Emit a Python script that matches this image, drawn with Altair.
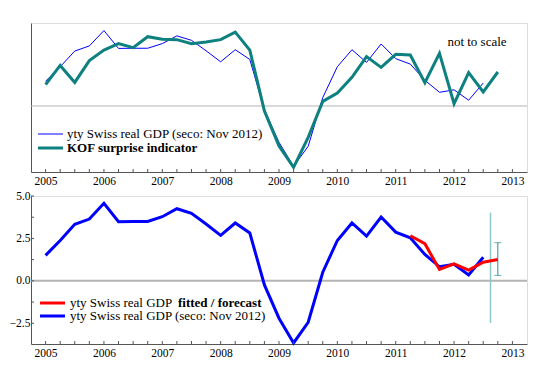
import altair as alt
import pandas as pd

# ---- data ----
years = [2005, 2006, 2007, 2008, 2009, 2010, 2011, 2012, 2013]
quarters = [2005 + 0.25 * i for i in range(33)]  # 2005.00 ... 2013.00 (tick positions)

gdp_quarters = [2005 + 0.25 * i for i in range(31)]  # 2005Q1 .. 2012Q3
gdp = [1.50, 2.38, 3.33, 3.64,
       4.57, 3.49, 3.50, 3.50,
       3.78, 4.25, 3.98, 3.35,
       2.68, 3.41, 2.82, -0.24,
       -2.20, -3.66, -2.44, 0.51,
       2.38, 3.41, 2.64, 3.76,
       2.87, 2.54, 1.56, 0.83,
       0.98, 0.35, 1.39]

kof_quarters = [2005 + 0.25 * i for i in range(32)]  # 2005Q1 .. 2012Q4
kof = [1.29, 2.46, 1.43, 2.75,
       3.39, 3.78, 3.54, 4.20,
       4.04, 4.02, 3.78, 3.88,
       4.02, 4.48, 3.39, -0.30,
       -2.42, -3.72, -1.90, 0.28,
       0.79, 1.74, 2.99, 2.34,
       3.13, 3.09, 1.41, 3.19,
       0.14, 2.02, 0.85, 2.06]

fc_quarters = [2011.25, 2011.5, 2011.75, 2012.0, 2012.25, 2012.5, 2012.75]
forecast = [2.66, 2.19, 0.67, 1.00, 0.63, 1.10, 1.26]

band_x = [2012.625]
band_lo = [-2.48]
band_hi = [4.02]

err_x = [2012.75]
err_lo = [0.32]
err_hi = [2.25]

ytick_vals = [-2.5, -1.25, 0.0, 1.25, 2.5, 3.75, 5.0]
ylabel_vals = [-2.5, 0.0, 2.5, 5.0]

# ---- style ----
FONT = "Liberation Serif"
TEAL = "#0e8080"
BLUE = "#0000ff"
RED = "#ff0000"
GRAY = "#b4b4b4"
AXIS = "#555555"

W = 496
H_TOP = 149
H_BOT = 148

xscale = alt.Scale(domain=[2004.75, 2013.25], nice=False, zero=False)
xaxis = alt.Axis(values=years, format="d", ticks=False, tickSize=0, grid=False, title=None,
                 labelFont=FONT, labelFontSize=11.5, labelColor="black",
                 labelPadding=3, domainColor=AXIS, labelFlush=False)

df_gdp = pd.DataFrame({"q": gdp_quarters, "v": gdp})
df_kof = pd.DataFrame({"q": kof_quarters, "v": kof})
df_fc = pd.DataFrame({"q": fc_quarters, "v": forecast})
df_q = pd.DataFrame({"q": quarters})
df_zero = pd.DataFrame({"v": [0.0]})
df_one = pd.DataFrame({"a": [0]})
df_band = pd.DataFrame({"q": band_x, "lo": band_lo, "hi": band_hi})
df_err = pd.DataFrame({"q": err_x, "lo": err_lo, "hi": err_hi})
df_yt = pd.DataFrame({"v": ytick_vals})

# ---- top panel ----
yscale_top = alt.Scale(domain=[-4.0, 5.03], nice=False, zero=False)
yaxis_top = alt.Axis(labels=False, ticks=False, tickSize=0, grid=False, title=None,
                     domainColor=AXIS)

top_zero = alt.Chart(df_zero).mark_rule(color=GRAY, strokeWidth=1).encode(
    y=alt.Y("v:Q", scale=yscale_top, axis=yaxis_top))
top_gdp = alt.Chart(df_gdp).mark_line(color=BLUE, strokeWidth=1).encode(
    x=alt.X("q:Q", scale=xscale, axis=xaxis),
    y=alt.Y("v:Q", scale=yscale_top, axis=yaxis_top))
top_kof = alt.Chart(df_kof).mark_line(color=TEAL, strokeWidth=3).encode(
    x=alt.X("q:Q", scale=xscale, axis=xaxis),
    y=alt.Y("v:Q", scale=yscale_top, axis=yaxis_top))
top_ticks = alt.Chart(df_q).mark_rule(color=AXIS, strokeWidth=1).encode(
    x=alt.X("q:Q", scale=xscale, axis=xaxis),
    y=alt.value(H_TOP), y2=alt.value(H_TOP - 3))
top_leg1_line = alt.Chart(df_one).mark_rule(color=BLUE, strokeWidth=1).encode(
    x=alt.value(7), x2=alt.value(32), y=alt.value(111))
top_leg2_line = alt.Chart(df_one).mark_rule(color=TEAL, strokeWidth=3).encode(
    x=alt.value(7), x2=alt.value(32), y=alt.value(125))
top_leg1_text = alt.Chart(df_one).mark_text(
    text="yty Swiss real GDP (seco: Nov 2012)", font=FONT, fontSize=13,
    align="left", baseline="middle", color="black").encode(
    x=alt.value(36), y=alt.value(111))
top_leg2_text = alt.Chart(df_one).mark_text(
    text="KOF surprise indicator", font=FONT, fontSize=13, fontWeight="bold",
    align="left", baseline="middle", color="black").encode(
    x=alt.value(36), y=alt.value(125))
top_note = alt.Chart(df_one).mark_text(
    text="not to scale", font=FONT, fontSize=13, align="center",
    baseline="middle", color="black").encode(x=alt.value(446), y=alt.value(19))

top = alt.layer(top_zero, top_gdp, top_kof, top_ticks, top_leg1_line, top_leg2_line,
                top_leg1_text, top_leg2_text, top_note).properties(width=W, height=H_TOP)

# ---- bottom panel ----
yscale_bot = alt.Scale(domain=[-3.72, 5.0], nice=False, zero=False)
yaxis_bot = alt.Axis(values=ylabel_vals, format=".1f", ticks=False, tickSize=0, grid=False,
                     title=None, labelFont=FONT, labelFontSize=11.5, labelColor="black",
                     labelPadding=1, domainColor=AXIS, labelFlush=False)

bot_zero = alt.Chart(df_zero).mark_rule(color=GRAY, strokeWidth=2).encode(
    y=alt.Y("v:Q", scale=yscale_bot, axis=yaxis_bot))
bot_band = alt.Chart(df_band).mark_rule(color="#8cc8c8", strokeWidth=1.5).encode(
    x=alt.X("q:Q", scale=xscale, axis=xaxis),
    y=alt.Y("lo:Q", scale=yscale_bot, axis=yaxis_bot), y2="hi:Q")
bot_err = alt.Chart(df_err).mark_rule(color="#2a9090", strokeWidth=1).encode(
    x=alt.X("q:Q", scale=xscale, axis=xaxis),
    y=alt.Y("lo:Q", scale=yscale_bot, axis=yaxis_bot), y2="hi:Q")
bot_cap_lo = alt.Chart(df_err).mark_tick(color="#2a9090", orient="horizontal",
                                         size=7, thickness=1).encode(
    x=alt.X("q:Q", scale=xscale, axis=xaxis),
    y=alt.Y("lo:Q", scale=yscale_bot, axis=yaxis_bot))
bot_cap_hi = alt.Chart(df_err).mark_tick(color="#2a9090", orient="horizontal",
                                         size=7, thickness=1).encode(
    x=alt.X("q:Q", scale=xscale, axis=xaxis),
    y=alt.Y("hi:Q", scale=yscale_bot, axis=yaxis_bot))
bot_gdp = alt.Chart(df_gdp).mark_line(color=BLUE, strokeWidth=3).encode(
    x=alt.X("q:Q", scale=xscale, axis=xaxis),
    y=alt.Y("v:Q", scale=yscale_bot, axis=yaxis_bot))
bot_fc = alt.Chart(df_fc).mark_line(color=RED, strokeWidth=3).encode(
    x=alt.X("q:Q", scale=xscale, axis=xaxis),
    y=alt.Y("v:Q", scale=yscale_bot, axis=yaxis_bot))
bot_xticks = alt.Chart(df_q).mark_rule(color=AXIS, strokeWidth=1).encode(
    x=alt.X("q:Q", scale=xscale, axis=xaxis),
    y=alt.value(H_BOT), y2=alt.value(H_BOT - 3))
bot_yticks = alt.Chart(df_yt).mark_rule(color=AXIS, strokeWidth=1).encode(
    y=alt.Y("v:Q", scale=yscale_bot, axis=yaxis_bot),
    x=alt.value(0), x2=alt.value(3))
bot_leg1_line = alt.Chart(df_one).mark_rule(color=RED, strokeWidth=3).encode(
    x=alt.value(9), x2=alt.value(34), y=alt.value(107))
bot_leg2_line = alt.Chart(df_one).mark_rule(color=BLUE, strokeWidth=3).encode(
    x=alt.value(9), x2=alt.value(34), y=alt.value(120))
bot_leg1_text = alt.Chart(df_one).mark_text(
    text="yty Swiss real GDP", font=FONT, fontSize=13,
    align="left", baseline="middle", color="black").encode(
    x=alt.value(39), y=alt.value(107))
bot_leg1_bold = alt.Chart(df_one).mark_text(
    text="fitted / forecast", font=FONT, fontSize=13, fontWeight="bold",
    align="left", baseline="middle", color="black").encode(
    x=alt.value(147), y=alt.value(107))
bot_leg2_text = alt.Chart(df_one).mark_text(
    text="yty Swiss real GDP (seco: Nov 2012)", font=FONT, fontSize=13,
    align="left", baseline="middle", color="black").encode(
    x=alt.value(39), y=alt.value(120))

bottom = alt.layer(bot_zero, bot_band, bot_err, bot_cap_lo, bot_cap_hi, bot_gdp, bot_fc,
                   bot_xticks, bot_yticks, bot_leg1_line, bot_leg2_line,
                   bot_leg1_text, bot_leg1_bold, bot_leg2_text).properties(width=W, height=H_BOT)

chart = alt.vconcat(top, bottom, spacing=24, bounds="flush").properties(
    padding={"left": 0, "top": 14, "right": 5, "bottom": 5}
).configure_view(stroke=None).configure(background="white")

chart.save("out.html", embed_options={"renderer": "svg", "actions": False})
